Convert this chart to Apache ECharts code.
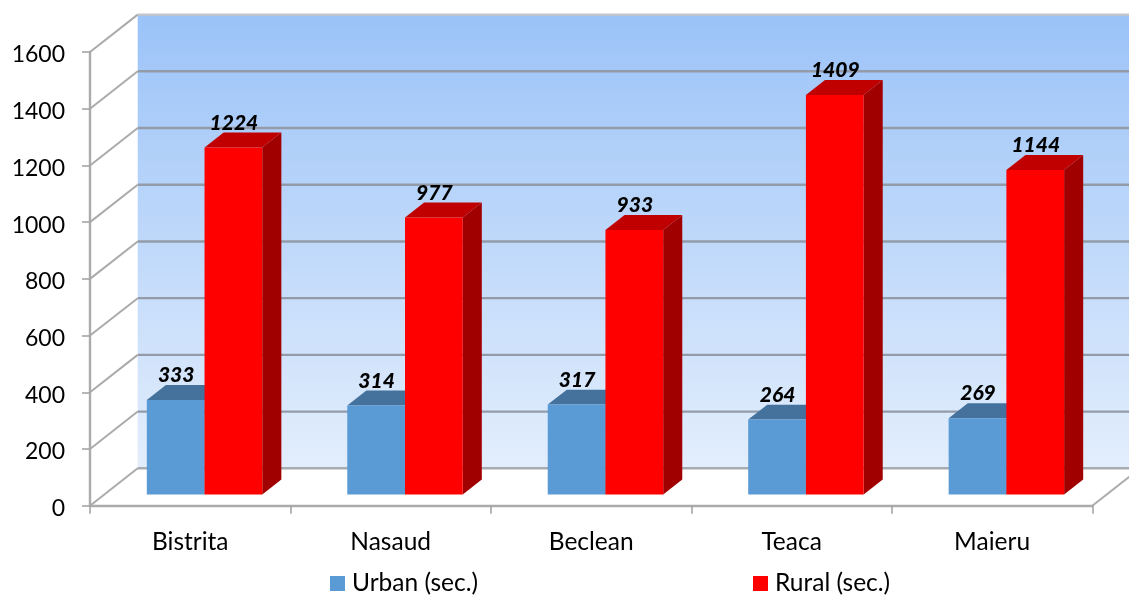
<!DOCTYPE html>
<html>
<head>
<meta charset="utf-8">
<style>html,body{margin:0;padding:0;background:#fff}#c{width:1129px;height:596px}</style>
<script src="https://cdn.jsdelivr.net/npm/echarts@6/dist/echarts.min.js"></script>
</head>
<body>
<div id="c"></div>
<script>
const categories = ['Bistrita', 'Nasaud', 'Beclean', 'Teaca', 'Maieru'];
const urban = [333, 314, 317, 264, 269];
const rural = [1224, 977, 933, 1409, 1144];
const yTicks = [0, 200, 400, 600, 800, 1000, 1200, 1400, 1600];

const FONT = 'Lato, "Open Sans", sans-serif';
const wall = [47.7, -37.4];
const depthStart = 0.3, depthEnd = 0.7;
const barWidthFrac = 0.288;

function wallItem(params, api) {
  const cs = params.coordSys;
  const v = api.value(0);
  const y = api.coord([0, v])[1];
  const x0 = cs.x, x1 = cs.x + cs.width;
  const kids = [];
  const lineC = '#ababab';
  if (params.dataIndex === 0) {
    kids.push({
      type: 'rect',
      shape: { x: x0 + wall[0], y: cs.y + wall[1], width: cs.width + 60, height: cs.height },
      style: {
        fill: new echarts.graphic.LinearGradient(0, 0, 0, 1, [
          { offset: 0, color: '#9bc3f8' },
          { offset: 1, color: '#e3eefc' }
        ])
      }
    });
    kids.push({
      type: 'line',
      shape: { x1: x1, y1: y, x2: x1 + wall[0], y2: y + wall[1] },
      style: { stroke: lineC, lineWidth: 2 }
    });
  }
  kids.push({
    type: 'line',
    shape: { x1: x0 + wall[0], y1: y + wall[1], x2: x1 + wall[0] + 60, y2: y + wall[1] },
    style: { stroke: v === 0 ? '#a8abb0' : (v === 1600 ? '#c4c6c9' : '#939ba8'), lineWidth: 2.4 }
  });
  kids.push({
    type: 'line',
    shape: { x1: x0, y1: y, x2: x0 + wall[0], y2: y + wall[1] },
    style: { stroke: lineC, lineWidth: 2 }
  });
  return { type: 'group', children: kids };
}

function barRenderer(side, colors) {
  return function (params, api) {
    const idx = api.value(0), val = api.value(1);
    const band = api.size([1, 0])[0];
    const w = band * barWidthFrac;
    const top = api.coord([idx, val]);
    const base = api.coord([idx, 0]);
    const cx = top[0] + wall[0] * depthStart;
    const xl = side < 0 ? cx - w : cx;
    const xr = xl + w;
    const yt = top[1] + wall[1] * depthStart;
    const yb = base[1] + wall[1] * depthStart;
    const dx = wall[0] * (depthEnd - depthStart);
    const dy = wall[1] * (depthEnd - depthStart);
    return {
      type: 'group',
      children: [
        { type: 'polygon', shape: { points: [[xr, yt], [xr + dx, yt + dy], [xr + dx, yb + dy], [xr, yb]] }, style: { fill: colors.side } },
        { type: 'polygon', shape: { points: [[xl, yt], [xl + dx, yt + dy], [xr + dx, yt + dy], [xr, yt]] }, style: { fill: colors.top } },
        { type: 'rect', shape: { x: xl, y: yt, width: w, height: yb - yt }, style: { fill: colors.front } },
        {
          type: 'text', z2: 50,
          style: {
            x: (xl + xr) / 2 + 0.5, y: yt - 24.5, text: String(val), align: 'center', verticalAlign: 'middle',
            font: 'italic 900 21px ' + FONT, fill: '#000'
          }
        }
      ]
    };
  };
}

const chart = echarts.init(document.getElementById('c'), null, { renderer: 'canvas' });
chart.setOption({
  animation: false,
  backgroundColor: '#fff',
  grid: { left: 90, right: 36.7, top: 52, bottom: 90.3 },
  legend: [
    { data: ['Urban (sec.)'], left: 330, top: 571, itemWidth: 15, itemHeight: 15, itemGap: 0, padding: 0, icon: 'rect',
      textStyle: { fontFamily: FONT, fontSize: 24.5, color: '#000', padding: [0, 0, 0, 2] } },
    { data: ['Rural (sec.)'], left: 753, top: 571, itemWidth: 15, itemHeight: 15, itemGap: 0, padding: 0, icon: 'rect',
      textStyle: { fontFamily: FONT, fontSize: 24.5, color: '#000', padding: [0, 0, 0, 2] } }
  ],
  xAxis: {
    type: 'category', data: categories, boundaryGap: true,
    axisLine: { lineStyle: { color: '#ababab', width: 2.4 } },
    axisTick: { show: true, length: 8, lineStyle: { color: '#a0a0a0', width: 1.5 } },
    axisLabel: { color: '#000', fontFamily: FONT, fontSize: 24.5, margin: 24 }
  },
  yAxis: {
    type: 'value', min: 0, max: 1600, interval: 200,
    splitLine: { show: false },
    axisLine: { show: true, lineStyle: { color: '#ababab', width: 2.4 } },
    axisTick: { show: true, length: 8, lineStyle: { color: '#a0a0a0', width: 1.5 } },
    axisLabel: {
      margin: 25,
      formatter: v => '{v|' + v + '}',
      rich: { v: { color: '#000', fontFamily: FONT, fontSize: 23, padding: [6, 0, 0, 0] } }
    }
  },
  series: [
    { type: 'custom', name: 'walls', coordinateSystem: 'cartesian2d', z: 1, silent: true,
      data: yTicks.map(v => [v]), encode: { y: 0 }, renderItem: wallItem },
    { type: 'custom', name: 'Urban (sec.)', coordinateSystem: 'cartesian2d', z: 3, silent: true,
      itemStyle: { color: '#5b9bd5' },
      data: urban.map((v, i) => [i, v]), encode: { x: 0, y: 1 },
      renderItem: barRenderer(-1, { front: '#5b9bd5', top: '#44729d', side: '#3a6590' }) },
    { type: 'custom', name: 'Rural (sec.)', coordinateSystem: 'cartesian2d', z: 4, silent: true,
      itemStyle: { color: '#ff0000' },
      data: rural.map((v, i) => [i, v]), encode: { x: 0, y: 1 },
      renderItem: barRenderer(1, { front: '#ff0000', top: '#c00000', side: '#a00000' }) }
  ]
});
</script>
</body>
</html>
